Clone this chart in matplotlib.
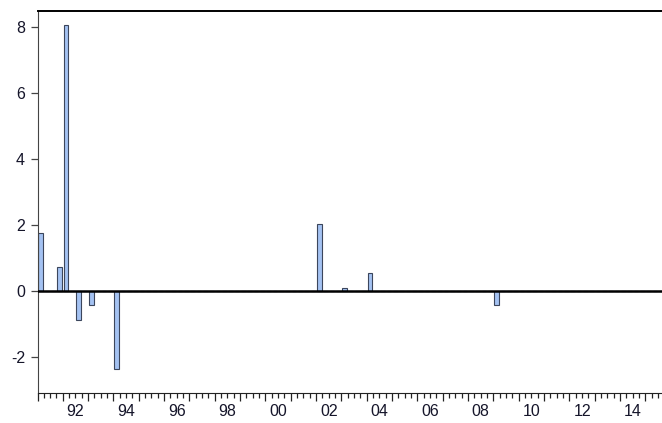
import pandas as pd
import matplotlib
matplotlib.use("Agg")
import matplotlib.pyplot as plt
from matplotlib.ticker import MultipleLocator

plt.rcParams['font.family'] = ['Liberation Sans', 'DejaVu Sans']

# quarterly series, 1991Q1-2015Q4; every quarter not listed here is zero
start_q = "1991Q1"
end_q = "2015Q4"
shock_quarters = ["1991Q1", "1991Q4", "1992Q1", "1992Q3", "1993Q1", "1994Q1",
                  "2002Q1", "2003Q1", "2004Q1", "2009Q1"]
shock_values = [1.77, 0.72, 8.05, -0.86, -0.42, -2.36,
                2.04, 0.09, 0.55, -0.42]

year_labels = ["92", "94", "96", "98", "00", "02", "04", "06", "08", "10", "12", "14"]
label_years = [1992, 1994, 1996, 1998, 2000, 2002, 2004, 2006, 2008, 2010, 2012, 2014]
y_ticks = [-2, 0, 2, 4, 6, 8]

periods = pd.period_range(start_q, end_q, freq="Q")
series = pd.Series(0.0, index=periods)
for q, v in zip(shock_quarters, shock_values):
    series[pd.Period(q, freq="Q")] = v

x = periods.year + (periods.quarter - 1) / 4.0 + 0.125

W, H = 662, 423
fig = plt.figure(figsize=(W / 100, H / 100), dpi=100)
ax = fig.add_axes([37.5 / W, 30 / H, 633.3 / W, 382.3 / H])

ax.bar(x, series.values, width=0.175, color="#a4c2f2", edgecolor="#3c465c",
       linewidth=0.8, zorder=2)
ax.axhline(0, color="black", linewidth=1.8, zorder=3)

ax.set_xlim(1991, 2016)
ax.set_ylim(-3.08, 8.48)

ax.spines["right"].set_visible(False)
ax.spines["top"].set_linewidth(1.4)
ax.spines["top"].set_color("black")
ax.spines["left"].set_color("#444444")
ax.spines["bottom"].set_color("#222222")

ax.set_yticks(y_ticks)
ax.set_yticklabels([str(t) for t in y_ticks])
ax.tick_params(axis="y", direction="out", length=5, width=0.9, color="#444444",
               labelsize=11.5, labelcolor="#15152a", pad=4)

# long ticks at year starts, short ticks every quarter
ax.xaxis.set_major_locator(MultipleLocator(1))
ax.xaxis.set_minor_locator(MultipleLocator(0.25))
ax.tick_params(axis="x", which="major", direction="out", length=6, width=0.9,
               color="#222222", labelbottom=False)
ax.tick_params(axis="x", which="minor", direction="out", length=3.5, width=0.9,
               color="#222222")

# year labels sit in the middle of each year span
for yr, lab in zip(label_years, year_labels):
    ax.text(yr + 0.5, -0.03, lab, transform=ax.get_xaxis_transform(),
            ha="center", va="top", fontsize=11.5, color="#15152a")

fig.savefig("out.png", dpi=100)
